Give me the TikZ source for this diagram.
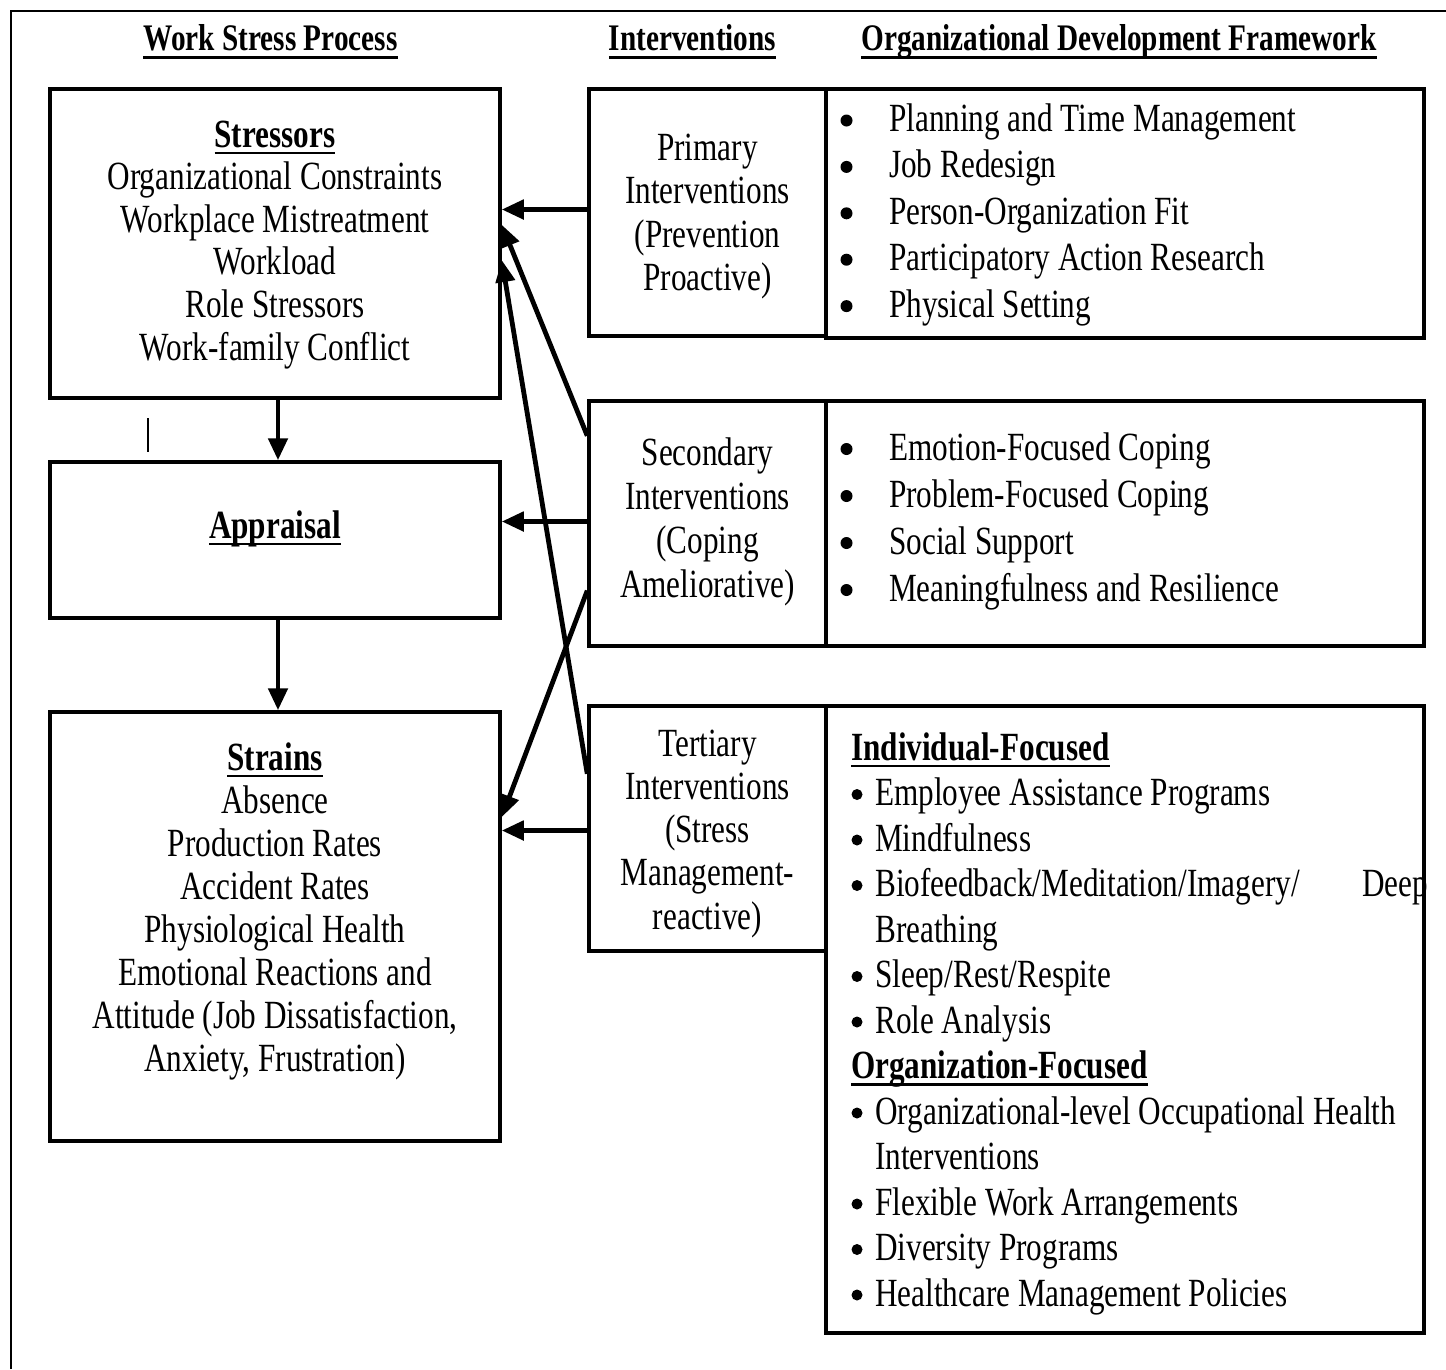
\documentclass[tikz,border=0pt]{standalone}
\usepackage{fontspec}
\setmainfont{Liberation Serif}[FakeStretch=0.78]
\usetikzlibrary{arrows.meta,calc}
\newcommand\fsz{\fontsize{40}{46}\selectfont}
\newcommand\hsz{\fontsize{37.5}{43}\selectfont\bfseries}
\newcommand\myul[1]{\setbox0\hbox{#1}\rlap{\rule[-7pt]{\wd0}{2.2pt}}\box0}
\newcommand\myhul[1]{\setbox0\hbox{#1}\rlap{\rule[-8.5pt]{\wd0}{2.8pt}}\box0}
\tikzset{
  box/.style={draw, line width=3.5pt, inner sep=0pt},
  arr/.style={line width=4.8pt, -{Triangle[length=22pt,width=19pt]}},
  ctxt/.style={inner sep=0pt, anchor=base, font=\fsz},
  ltxt/.style={inner sep=0pt, anchor=base west, font=\fsz},
  head/.style={inner sep=0pt, anchor=base, font=\hsz},
  dot/.style={fill=black},
}
\begin{document}
\begin{tikzpicture}[x=1pt,y=-1pt]
\useasboundingbox (0,0) rectangle (1446,1369);
% outer frame (top and left only)
\draw[line width=2pt] (11,1369) -- (11,11) -- (1446,11);
% headers
\node[head] (h1) at (270.5,50) {\myhul{Work Stress Process}};
\node[head] (h2) at (692.5,50) {\myhul{Interventions}};
\node[head] (h3) at (1119,50) {\myhul{Organizational Development Framework}};
% boxes
\node[box, minimum width=450pt, minimum height=309pt] (stress) at (275,243.5) {};
\node[box, minimum width=450pt, minimum height=156pt] (appr) at (275,540) {};
\node[box, minimum width=450pt, minimum height=429pt] (strain) at (275,926.5) {};
\node[box, minimum width=237pt, minimum height=247pt] (prim) at (707.5,212.5) {};
\node[box, minimum width=237pt, minimum height=245pt] (sec) at (707.5,523.5) {};
\node[box, minimum width=237pt, minimum height=245pt] (tert) at (707.5,828.5) {};
\node[box, minimum width=598pt, minimum height=249pt] (od1) at (1125,213.5) {};
\node[box, minimum width=598pt, minimum height=245pt] (od2) at (1125,523.5) {};
\node[box, minimum width=598pt, minimum height=627pt] (od3) at (1125,1019.5) {};
% stray mark
\draw[line width=1.8pt] (148,418) -- (148,452);
% left column texts
\foreach \t [count=\i] in {{\textbf{\myul{Stressors}}},{Organizational Constraints},{Workplace Mistreatment},{Workload},{Role Stressors},{Work-family Conflict}}
  \node[ctxt] (st\i) at (275,{147+42.6*(\i-1)}) {\t};
\node[ctxt] (ap1) at (275,538) {\textbf{\myul{Appraisal}}};
\foreach \t [count=\i] in {{\textbf{\myul{Strains}}},{Absence},{Production Rates},{Accident Rates},{Physiological Health},{Emotional Reactions and},{Attitude (Job Dissatisfaction,},{Anxiety, Frustration)}}
  \node[ctxt] (sn\i) at (275,{770+43.1*(\i-1)}) {\t};
% interventions texts
\foreach \t [count=\i] in {{Primary},{Interventions},{(Prevention},{Proactive)}}
  \node[ctxt] (pr\i) at (707.5,{160+43.6*(\i-1)}) {\t};
\foreach \t [count=\i] in {{Secondary},{Interventions},{(Coping},{Ameliorative)}}
  \node[ctxt] (se\i) at (707.5,{465+44*(\i-1)}) {\t};
\foreach \t [count=\i] in {{Tertiary},{Interventions},{(Stress},{Management-},{reactive)}}
  \node[ctxt] (te\i) at (707.5,{756+43.3*(\i-1)}) {\t};
% OD framework texts (box 1)
\foreach \t [count=\i] in {{Planning and Time Management},{Job Redesign},{Person-Organization Fit},{Participatory Action Research},{Physical Setting}}{
  \node[ltxt] (oa\i) at (889,{131.5+46.4*(\i-1)}) {\t};
  \fill[dot] (846.5,{131.5+46.4*(\i-1)-11}) circle (6pt);
}
% box 2
\foreach \t [count=\i] in {{Emotion-Focused Coping},{Problem-Focused Coping},{Social Support},{Meaningfulness and Resilience}}{
  \node[ltxt] (ob\i) at (889,{460+47*(\i-1)}) {\t};
  \fill[dot] (846.5,{460+47*(\i-1)-11}) circle (6pt);
}
% box 3
\node[ltxt] (oc1) at (851,760) {\textbf{\myul{Individual-Focused}}};
\node[ltxt] (oc8) at (851,{760+45.5*7}) {\textbf{\myul{Organization-Focused}}};
\foreach \t/\i in {{Employee Assistance Programs}/2,{Mindfulness}/3,{Biofeedback/Meditation/Imagery/}/4,{Sleep/Rest/Respite}/6,{Role Analysis}/7,{Organizational-level Occupational Health}/9,{Flexible Work Arrangements}/11,{Diversity Programs}/12,{Healthcare Management Policies}/13}{
  \node[ltxt] (oc\i) at (875,{760+45.5*(\i-1)}) {\t};
  \fill[dot] (857,{760+45.5*(\i-1)-11}) circle (5.5pt);
}
\node[ltxt] (oc5) at (875,{760+45.5*4}) {Breathing};
\node[ltxt] (oc10) at (875,{760+45.5*9}) {Interventions};
\node[ltxt] (deep) at (1362,896.5) {Deep};
% arrows
\draw[arr] ([xshift=3pt]stress.south) -- ([xshift=3pt]appr.north);
\draw[arr] ([xshift=3pt]appr.south) -- ([xshift=3pt]strain.north);
\draw[arr] ([yshift=3pt]prim.west) -- ([yshift=3pt]prim.west -| stress.east);
\draw[arr] ([yshift=2pt]sec.west) -- ([yshift=2pt]sec.west -| appr.east);
\draw[arr] ([yshift=-2pt]tert.west) -- ([yshift=-2pt]tert.west -| strain.east);
\coordinate (a1) at ($(sec.north west)!0.147!(sec.south west)$);
\coordinate (b1) at ($(stress.north east)!0.44!(stress.south east)$);
\coordinate (a2) at ($(tert.north west)!0.28!(tert.south west)$);
\coordinate (b2) at ($(stress.north east)!0.553!(stress.south east)$);
\coordinate (a3) at ($(sec.north west)!0.77!(sec.south west)$);
\coordinate (b3) at ($(strain.north east)!0.247!(strain.south east)$);
\draw[arr] (a1) -- (b1);
\draw[arr] (a2) -- (b2);
\draw[arr] (a3) -- (b3);
\end{tikzpicture}
\end{document}
